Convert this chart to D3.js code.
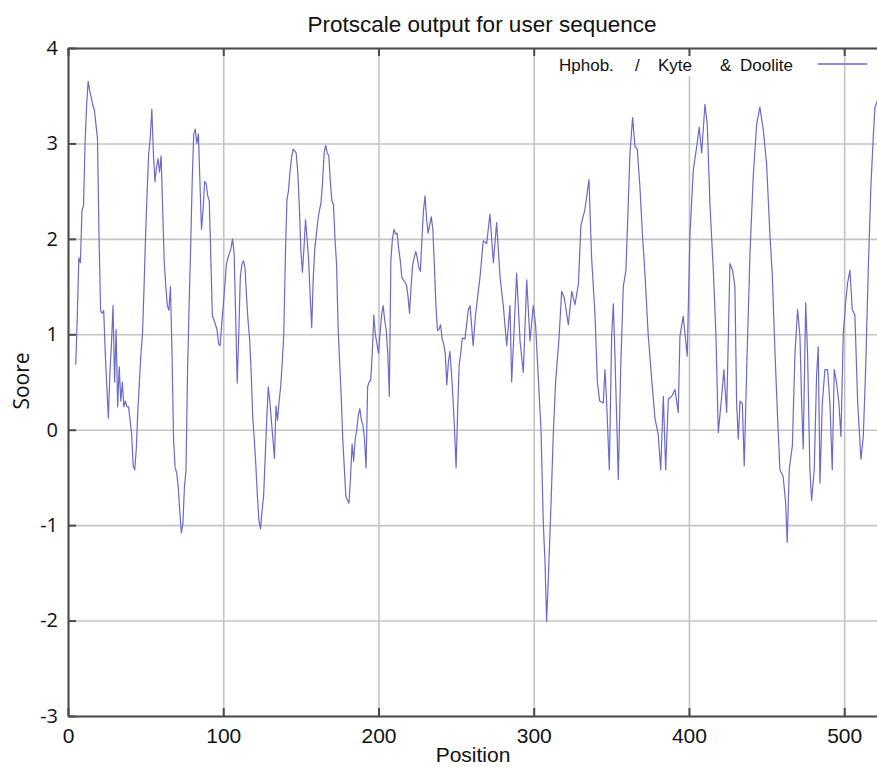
<!DOCTYPE html>
<html>
<head>
<meta charset="utf-8">
<script src="https://cdn.jsdelivr.net/npm/d3@7"></script>
<style>
  html, body { margin: 0; padding: 0; background: #fff; }
  svg { display: block; }
  text { font-family: "Liberation Sans", Arial, sans-serif; fill: #111; }
  .ylab text, .ylab-title { font-family: "Open Sans", sans-serif; }
</style>
</head>
<body>
<div id="chart"></div>
<script>
// Kyte & Doolittle hydropathy.
// First stretch: one score per residue starting at position 5.
const firstPosition = 5;
const scoresFromFirst = [
  0.68, 1.2, 1.8, 1.75, 2.3, 2.35, 3.0, 3.4, 3.65, 3.55,
  3.48, 3.4, 3.35, 3.2, 3.05, 2.0, 1.25, 1.22, 1.25, 0.8,
  0.45, 0.12, 0.6, 0.9, 1.3, 0.5, 1.05, 0.24, 0.66, 0.3,
  0.5, 0.24, 0.3, 0.24, 0.24, 0.1, -0.05, -0.38, -0.42, -0.2,
  0.2, 0.5, 0.8, 1.0, 1.5, 2.05, 2.5, 2.9, 3.06, 3.36,
  2.9, 2.6, 2.75, 2.84, 2.7, 2.87, 2.3, 1.75, 1.5, 1.3,
  1.25, 1.5, 0.8, -0.1, -0.4, -0.45, -0.6, -0.85, -1.08, -0.99,
  -0.6, -0.43, 0.6, 1.3, 1.9, 2.6, 3.1, 3.15, 3.0, 3.1,
  2.59, 2.1, 2.3, 2.6, 2.58, 2.45, 2.4, 1.8, 1.2, 1.15,
  1.1, 1.05, 0.9, 0.88, 1.1, 1.3, 1.5, 1.73, 1.8, 1.85,
  1.9, 2.0, 1.85, 1.2, 0.49, 1.0, 1.6, 1.73, 1.77, 1.7,
  1.4, 1.14, 0.95, 0.6, 0.14, -0.1, -0.37, -0.7, -0.95, -1.04,
  -0.85, -0.7, -0.3, 0.1, 0.45, 0.3, 0.1, -0.1, -0.3, 0.25,
  0.1, 0.3, 0.45, 0.7, 1.0, 1.8, 2.4, 2.5, 2.7, 2.85,
  2.94, 2.92, 2.9, 2.7, 2.35, 1.88, 1.65, 1.9, 2.2, 2.0,
  1.78, 1.4, 1.07, 1.6, 1.9, 2.05, 2.2, 2.3, 2.38, 2.6,
  2.9, 2.98, 2.9, 2.87, 2.6, 2.4, 2.36, 2.0, 1.73, 1.07,
  0.7, 0.35, -0.1, -0.4, -0.7, -0.74, -0.77, -0.5, -0.15, -0.33,
  -0.1, 0.0, 0.15, 0.22, 0.1, 0.05, -0.1, -0.4, 0.45, 0.5,
  0.52, 0.8, 1.2, 1.0, 0.9, 0.8, 1.0, 1.2, 1.3, 1.15,
  1.04, 0.8, 0.35, 1.78, 2.0, 2.1, 2.05, 2.06, 1.9, 1.78,
  1.6, 1.57, 1.55, 1.52, 1.4, 1.22, 1.5, 1.73, 1.8, 1.87,
  1.8, 1.7, 1.66, 2.0, 2.3, 2.45, 2.2, 2.06, 2.15, 2.23,
  2.1, 1.73, 1.3, 1.04, 1.05, 1.1, 0.95, 0.9, 0.8, 0.47,
  0.7, 0.82, 0.6, 0.33, 0.0, -0.4, 0.2, 0.68, 0.8, 0.96
];

// Second stretch: positions.
const laterPositions = [
  255.7, 257.9, 259, 261, 262.5, 264.3, 265.4, 267.5, 269.7, 271.8,
  274, 276.1, 278.3, 280.4, 282.6, 284.7, 285.8, 287.5, 289, 291.2,
  293.3, 295.5, 297.6, 299.7, 301.2, 303, 304.7, 306.2, 307.3, 308.3,
  309.4, 311.1, 312.6, 314.1, 316.3, 318, 319.7, 322.3, 324.5, 326.6,
  328.8, 330.4, 333, 335.6, 337.3, 339.5, 341, 342.5, 344.8, 345.9,
  347, 348.7, 350.2, 351.3, 352.3, 354.5, 356, 357.7, 359.4, 360.9,
  362, 363.7, 365.2, 366.7, 368.4, 370.1, 371.7, 373.8, 376, 378.1,
  380.2, 381.8, 383.5, 385, 386.7, 388.9, 391, 393.1, 394.2, 396.3,
  398.9, 400.6, 402.8, 405, 406.6, 408.2, 410.3, 411.8, 413.5, 415.7,
  417.4, 418.9, 421.1, 422.5, 424.3, 426.4, 428.1, 429.6, 430.7, 431.8,
  432.9, 434.4, 435.6, 437.2, 439.3, 441.4, 443.6, 445.7, 447.9, 450,
  452.2, 453.7, 455.4, 457.1, 458.6, 460.7, 462.3, 463.3, 464.6, 466.6,
  468.3, 470, 471.5, 472.6, 473.6, 475.2, 476.4, 477.9, 479, 480.7,
  482.2, 483.3, 484.4, 485.9, 487.6, 489.3, 490.8, 492.3, 493.6, 495.1,
  496.6, 497.9, 499.4, 500.9, 502.2, 503.7, 505.2, 506.9, 508.7, 510.8,
  512.3, 513.8, 515.5, 517.2, 518.7, 519.8, 521.5
];
const laterScores = [
  0.95, 1.26, 1.3, 0.88, 1.2, 1.45, 1.6, 1.98, 1.95, 2.26,
  1.75, 2.17, 1.6, 1.3, 0.88, 1.3, 0.5, 1.1, 1.64, 0.93,
  0.6, 1.57, 0.93, 1.3, 1.1, 0.53, 0.0, -0.99, -1.4, -2.01,
  -1.57, -0.8, -0.05, 0.5, 0.96, 1.45, 1.38, 1.1, 1.45, 1.31,
  1.53, 2.14, 2.31, 2.62, 1.8, 1.2, 0.5, 0.3, 0.28, 0.63,
  0.28, -0.42, 0.98, 1.32, 0.8, -0.52, 0.63, 1.5, 1.67, 2.37,
  2.9, 3.27, 2.97, 2.94, 2.55, 2.03, 1.62, 0.98, 0.53, 0.12,
  -0.05, -0.42, 0.35, -0.42, 0.32, 0.35, 0.42, 0.18, 0.98, 1.19,
  0.77, 2.03, 2.72, 2.97, 3.17, 2.9, 3.41, 3.2, 2.37, 1.67,
  0.98, -0.03, 0.35, 0.63, 0.18, 1.74, 1.67, 1.5, 0.28, -0.1,
  0.3, 0.27, -0.38, 0.63, 1.84, 2.65, 3.2, 3.38, 3.14, 2.79,
  2.03, 1.62, 0.82, 0.12, -0.42, -0.49, -0.77, -1.18, -0.42, -0.17,
  0.8, 1.26, 0.98, 0.28, -0.2, 1.33, 0.8, -0.42, -0.74, -0.42,
  0.56, 0.87, -0.56, 0.28, 0.63, 0.63, 0.28, -0.42, 0.63, 0.49,
  0.28, -0.07, 1.0, 1.33, 1.54, 1.67, 1.26, 1.2, 0.28, -0.31,
  -0.07, 0.63, 1.67, 2.55, 3.06, 3.38, 3.45
];

const xTicks = [0, 100, 200, 300, 400, 500];
const yTicks = [-3, -2, -1, 0, 1, 2, 3, 4];

const titleText = "Protscale output for user sequence";
const legendWords = ["Hphob.", "/", "Kyte", "&", "Doolite"];

const points = scoresFromFirst.map((s, i) => [firstPosition + i, s])
    .concat(laterPositions.map((p, i) => [p, laterScores[i]]));

const width = 877;
const height = 767;
const plotLeft = 68, plotTop = 48, plotBottom = 716, plotRight = 883;

const svg = d3.select("#chart").append("svg")
    .attr("width", width)
    .attr("height", height);

const x = d3.scaleLinear().domain([0, 525]).range([plotLeft, plotRight]);
const y = d3.scaleLinear().domain([-3, 4]).range([plotBottom, plotTop]);

// grid
svg.append("g")
    .attr("transform", `translate(${plotLeft},0)`)
    .call(d3.axisLeft(y).tickValues(yTicks).tickSize(-(plotRight - plotLeft)).tickFormat(""))
    .call(g => g.select(".domain").remove())
    .call(g => g.selectAll("line").attr("stroke", "#c4c4c4").attr("stroke-width", 1.6));
svg.append("g")
    .attr("transform", `translate(0,${plotBottom})`)
    .call(d3.axisBottom(x).tickValues(xTicks).tickSize(-(plotBottom - plotTop)).tickFormat(""))
    .call(g => g.select(".domain").remove())
    .call(g => g.selectAll("line").attr("stroke", "#c4c4c4").attr("stroke-width", 1.6));

// legend text sits on top of the grid
const legend = svg.append("g");
legend.append("rect")
    .attr("x", 552).attr("y", 52).attr("width", 250).attr("height", 24)
    .attr("fill", "#fff");
const legendX = [559, 635, 658, 720, 740];
legend.selectAll("text")
    .data(legendWords)
    .join("text")
    .attr("x", (d, i) => legendX[i])
    .attr("y", 70.5)
    .attr("font-size", 17)
    .text(d => d);
legend.append("line")
    .attr("x1", 818).attr("x2", 867)
    .attr("y1", 64).attr("y2", 64)
    .attr("stroke", "#8a8ade")
    .attr("stroke-width", 2);

// data line
svg.append("clipPath").attr("id", "plot-clip")
    .append("rect")
    .attr("x", plotLeft).attr("y", plotTop)
    .attr("width", plotRight - plotLeft).attr("height", plotBottom - plotTop);

svg.append("path")
    .datum(points)
    .attr("clip-path", "url(#plot-clip)")
    .attr("fill", "none")
    .attr("stroke", "#6a6ac8")
    .attr("stroke-width", 1.2)
    .attr("stroke-linejoin", "round")
    .attr("d", d3.line().x(d => x(d[0])).y(d => y(d[1])));

// frame and inner ticks
const frame = "#4a4a4a";
svg.append("g")
    .attr("transform", `translate(${plotLeft},0)`)
    .call(d3.axisRight(y).tickValues(yTicks).tickSize(8).tickSizeOuter(0).tickFormat(""))
    .call(g => g.selectAll("line, .domain").attr("stroke", frame).attr("stroke-width", 2));
svg.append("g")
    .attr("transform", `translate(0,${plotBottom})`)
    .call(d3.axisTop(x).tickValues(xTicks).tickSize(8).tickSizeOuter(0).tickFormat(""))
    .call(g => g.selectAll("line, .domain").attr("stroke", frame).attr("stroke-width", 2));
svg.append("g")
    .attr("transform", `translate(0,${plotTop})`)
    .call(d3.axisBottom(x).tickValues(xTicks).tickSize(8).tickSizeOuter(0).tickFormat(""))
    .call(g => g.selectAll("line, .domain").attr("stroke", frame).attr("stroke-width", 2));

// tick labels (plain hyphen for negatives, as in the original)
svg.append("g")
    .attr("class", "ylab")
    .attr("transform", `translate(${plotLeft},0)`)
    .call(d3.axisLeft(y).tickValues(yTicks).tickSize(0).tickPadding(10).tickFormat(d => String(d)))
    .call(g => g.select(".domain").remove())
    .call(g => g.selectAll("text").attr("font-size", 20).attr("fill", "#111"));
svg.append("g")
    .attr("transform", `translate(0,${plotBottom})`)
    .call(d3.axisBottom(x).tickValues(xTicks).tickSize(0).tickPadding(12))
    .call(g => g.select(".domain").remove())
    .call(g => g.selectAll("text").attr("font-size", 21).attr("fill", "#111")
        .attr("font-family", "'Liberation Sans', Arial, sans-serif"));

// titles
svg.append("text")
    .attr("x", 482).attr("y", 31.5)
    .attr("text-anchor", "middle")
    .attr("font-size", 22.5)
    .text(titleText);

svg.append("text")
    .attr("x", 473).attr("y", 762)
    .attr("text-anchor", "middle")
    .attr("font-size", 21)
    .text("Position");

svg.append("text")
    .attr("class", "ylab-title")
    .attr("transform", "translate(29,381) rotate(-90)")
    .attr("text-anchor", "middle")
    .attr("font-size", 21)
    .text("Soore");
</script>
</body>
</html>
